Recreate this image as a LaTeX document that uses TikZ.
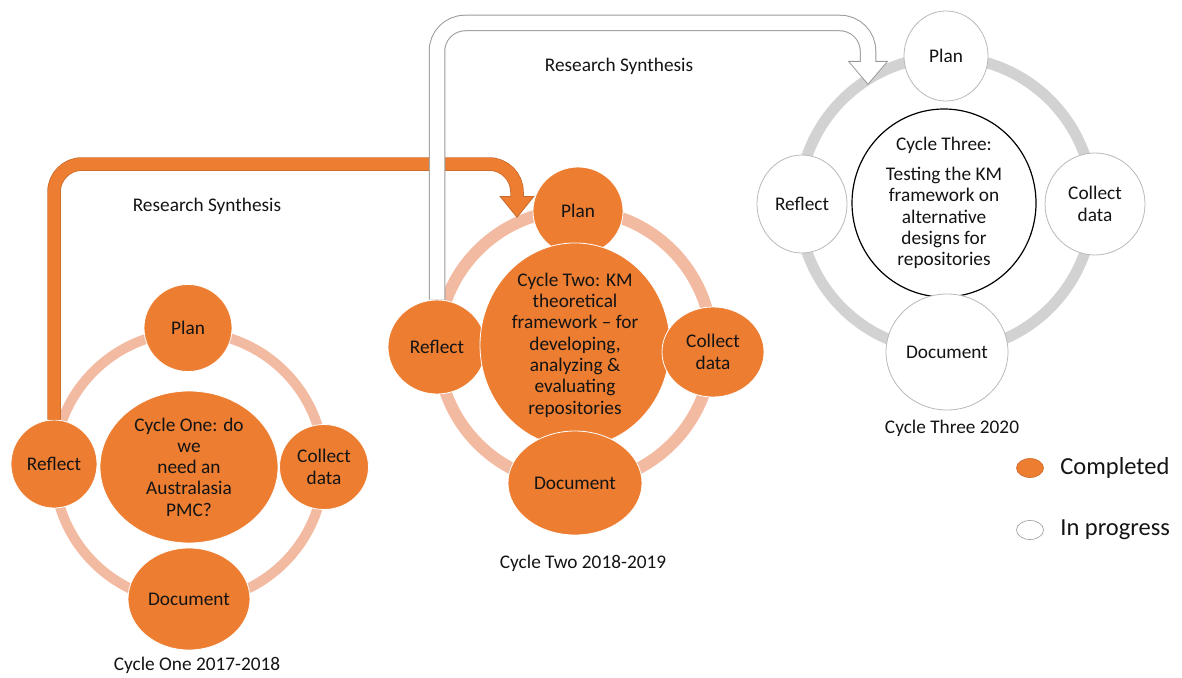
\documentclass[tikz,border=0pt]{standalone}
\usepackage{fontspec}
\setmainfont{Carlito}
\usetikzlibrary{arrows.meta,positioning,shapes.geometric}

\definecolor{done}{RGB}{237,125,49}
\definecolor{doneRing}{RGB}{243,186,162}
\definecolor{todoRing}{RGB}{210,210,210}
\definecolor{todoLine}{RGB}{185,185,185}
\definecolor{ink}{RGB}{20,20,20}

\begin{document}
\begin{tikzpicture}[
    x=1pt, y=-1pt,
    every node/.style={font=\fontsize{19.3}{21.3}\selectfont, text=ink},
    wh/.style 2 args={minimum width=#1pt, minimum height=#2pt},
    stage/.style={ellipse, inner sep=0pt, align=center},
    doneStage/.style={stage, fill=done, draw=white, line width=0.8pt},
    todoStage/.style={stage, fill=white, draw=todoLine, line width=0.8pt},
    synthEdge/.style={line width=#1, rounded corners=28pt},
    synthFill/.style={line width=#1, rounded corners=28pt, shorten >=1.5pt}
  ]
    \useasboundingbox (0,0) rectangle (1182,677);

    %=== Cycle One (completed) ===%
    \coordinate (o1) at (189,467);
    \draw[doneRing, line width=10pt] (o1) circle[radius=135pt];
    \node[doneStage, wh={88}{87}]   (p1) at (188,328) {Plan};
    \node[doneStage, wh={86}{88}]   (r1) at (54,464)  {Reflect};
    \node[doneStage, wh={178}{152}] (c1) at (o1) {Cycle One: do\\we\\need an\\Australasia\\PMC?};
    \node[doneStage, wh={89}{85}]   (d1) at (324,467) {Collect\\data};
    \node[doneStage, wh={122}{102}] (m1) at (189,599) {Document};
    \node (cap1) at (197,665) {Cycle One 2017-2018};

    %=== Cycle Two (completed) ===%
    \coordinate (o2) at (575,347);
    \draw[doneRing, line width=12pt] (o2) circle[radius=137pt];
    \node[doneStage, wh={90}{88}]   (p2) at (578,211) {Plan};
    \node[doneStage, wh={98}{94}]   (r2) at (437,347) {Reflect};
    \node[doneStage, wh={190}{176}] (c2) at (575,345)
      {Cycle Two: KM\\theoretical\\framework -- for\\developing,\\analyzing \&\\evaluating\\repositories};
    \node[doneStage, wh={102}{90}]  (d2) at (713,352) {Collect\\data};
    \node[doneStage, wh={134}{104}] (m2) at (575,483) {Document};
    \node (cap2) at (583,563) {Cycle Two 2018-2019};

    %=== Cycle Three (in progress) ===%
    \coordinate (o3) at (946,204);
    \draw[todoRing, line width=11pt] (o3) circle[radius=147pt];
    \node[todoStage, wh={84}{90}]   (p3) at (946,56)  {Plan};
    \node[todoStage, wh={90}{98}]   (r3) at (802,204) {Reflect};
    \node[stage, fill=white, draw=black, line width=1.2pt, wh={184}{188}] (c3) at (944,203)
      {Cycle Three:\\[8.5pt]Testing the KM\\framework on\\alternative\\designs for\\repositories};
    \node[todoStage, wh={100}{102}] (d3) at (1095,204) {Collect\\data};
    \node[todoStage, wh={122}{116}] (m3) at (947,352) {Document};
    \node (cap3) at (952,428) {Cycle Three 2020};

    %=== Research synthesis arrows ===%
    \coordinate (in2) at (517,218);
    \coordinate (in3) at (868,85);
    \draw[synthEdge=13.5pt, done!85!black, -{Triangle[width=34pt,length=22pt]}]
      (r1.north) |- ([yshift=54pt]in2) -- (in2);
    \draw[synthFill=12pt, done, -{Triangle[width=30pt,length=19.5pt]}]
      (r1.north) |- ([yshift=54pt]in2) -- (in2);
    \draw[synthEdge=16.5pt, gray!80, -{Triangle[width=39pt,length=24pt]}]
      (r2.north) |- ([yshift=62pt]in3) -- (in3);
    \draw[synthFill=14.5pt, white, -{Triangle[width=35pt,length=21.5pt]}]
      (r2.north) |- ([yshift=62pt]in3) -- (in3);
    \node (syn1) at (207,206) {Research Synthesis};
    \node (syn2) at (619,66)  {Research Synthesis};

    %=== Legend ===%
    \node[ellipse, fill=done, draw=done!85!black, line width=0.6pt, inner sep=0pt, wh={27}{19}] (keyDone) at (1030,468) {};
    \node[ellipse, fill=white, draw=gray!80, line width=0.6pt, inner sep=0pt, wh={27}{19}] (keyTodo) at (1030,530) {};
    \node[right=13pt of keyDone, font=\fontsize{24.5}{26}\selectfont] (txtDone) {Completed};
    \node[right=13pt of keyTodo, font=\fontsize{24.5}{26}\selectfont] (txtTodo) {In progress};

  \end{tikzpicture}
\end{document}
